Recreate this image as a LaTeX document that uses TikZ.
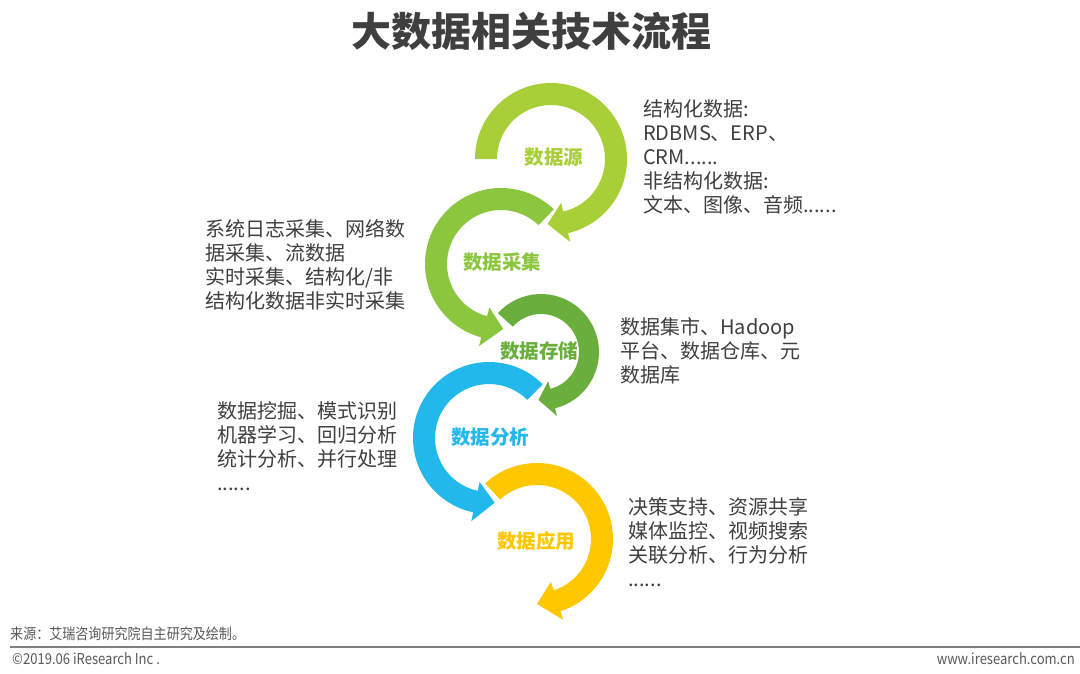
\documentclass[tikz,border=0pt]{standalone}
\usepackage{fontspec}
\setmainfont{Noto Sans CJK SC}
\newfontfamily\cjknarrow{Noto Sans CJK SC}[FakeStretch=0.87]
\usetikzlibrary{calc}
\definecolor{cA}{HTML}{A8CF38}
\definecolor{cB}{HTML}{8CC63F}
\definecolor{cC}{HTML}{6AAE3E}
\definecolor{cD}{HTML}{22B8EC}
\definecolor{cE}{HTML}{FDC800}
\definecolor{txt}{HTML}{3F3F3F}
\definecolor{foot}{HTML}{595959}
\definecolor{rule}{HTML}{7F7F7F}
% #1 colour, #2 centre, #3 mid radius, #4 half thickness,
% #5 start angle, #6 arrow base angle, #7 tip angle, #8 barb half width
\newcommand\curlarrow[8]{%
  \pgfmathsetmacro\ro{#3+#4}\pgfmathsetmacro\ri{#3-#4}%
  \pgfmathsetmacro\bo{#3+#8}\pgfmathsetmacro\bi{#3-#8}%
  \fill[#1, preaction={draw=white,line width=4pt,line join=round}]
    ($(#2)+(#5:\ro pt)$) arc[start angle=#5, end angle=#6, radius=\ro pt]
    -- ($(#2)+(#6:\bo pt)$) -- ($(#2)+(#7:#3pt)$) -- ($(#2)+(#6:\bi pt)$)
    -- ($(#2)+(#6:\ri pt)$) arc[start angle=#6, end angle=#5, radius=\ri pt]
    -- cycle;}
\begin{document}
\begin{tikzpicture}[x=1pt,y=1pt,
  body/.style={anchor=north west, inner sep=0pt, align=left, text=txt,
    font=\fontsize{20}{24}\selectfont},
  lab/.style={inner sep=0pt, font=\bfseries\fontsize{19.5}{20}\selectfont},
  foottext/.style={inner sep=0pt, text=foot, font=\cjknarrow\fontsize{15}{16}\selectfont}]
\fill[white] (0,0) rectangle (1080,-673);
\useasboundingbox (0,0) rectangle (1080,-673);

\node[inner sep=0pt, text=txt, font=\bfseries\fontsize{40}{42}\selectfont] (title) at (531,-31) {大数据相关技术流程};

\coordinate (c1) at (551,-159);
\coordinate (c2) at (501,-264);
\coordinate (c3) at (541,-352);
\coordinate (c4) at (489,-438);
\coordinate (c5) at (537,-539);

\curlarrow{cE}{c5}{65}{11}{133}{-72}{-90}{20}
\curlarrow{cD}{c4}{65}{11}{45}{258}{275}{20}
\curlarrow{cC}{c3}{48}{10}{138}{-76}{-93}{18}
\curlarrow{cB}{c2}{65}{11}{46}{255}{272}{20}
\curlarrow{cA}{c1}{65}{11}{180}{-77}{-93}{20}

\node[lab, text=cA] (l1) at (554,-157) {数据源};
\node[lab, text=cB] (l2) at (502,-262) {数据采集};
\node[lab, text=cC] (l3) at (539,-351) {数据存储};
\node[lab, text=cD] (l4) at (490,-437) {数据分析};
\node[lab, text=cE] (l5) at (536,-541) {数据应用};

\node[body] (b1) at (643,-99) {结构化数据:\\RDBMS、ERP、\\CRM......\\非结构化数据:\\文本、图像、音频......};
\node[body] (b2) at (205,-219) {系统日志采集、网络数\\据采集、流数据\\实时采集、结构化/非\\结构化数据非实时采集};
\node[body] (b3) at (620,-317) {数据集市、Hadoop\\平台、数据仓库、元\\数据库};
\node[body] (b4) at (217,-401) {数据挖掘、模式识别\\机器学习、回归分析\\统计分析、并行处理\\......};
\node[body] (b5) at (628,-497) {决策支持、资源共享\\媒体监控、视频搜索\\关联分析、行为分析\\......};

\node[foottext, anchor=west] (src) at (10,-634) {来源：艾瑞咨询研究院自主研究及绘制。};
\coordinate (r1) at (10,-647);
\coordinate (r2) at (1080,-647);
\draw[rule, line width=1.2pt] (r1) -- (r2);
\node[foottext, anchor=west] (copy) at (12,-659) {©2019.06 iResearch Inc .};
\node[foottext, anchor=east] (web) at (1075,-659) {www.iresearch.com.cn};
\end{tikzpicture}
\end{document}
